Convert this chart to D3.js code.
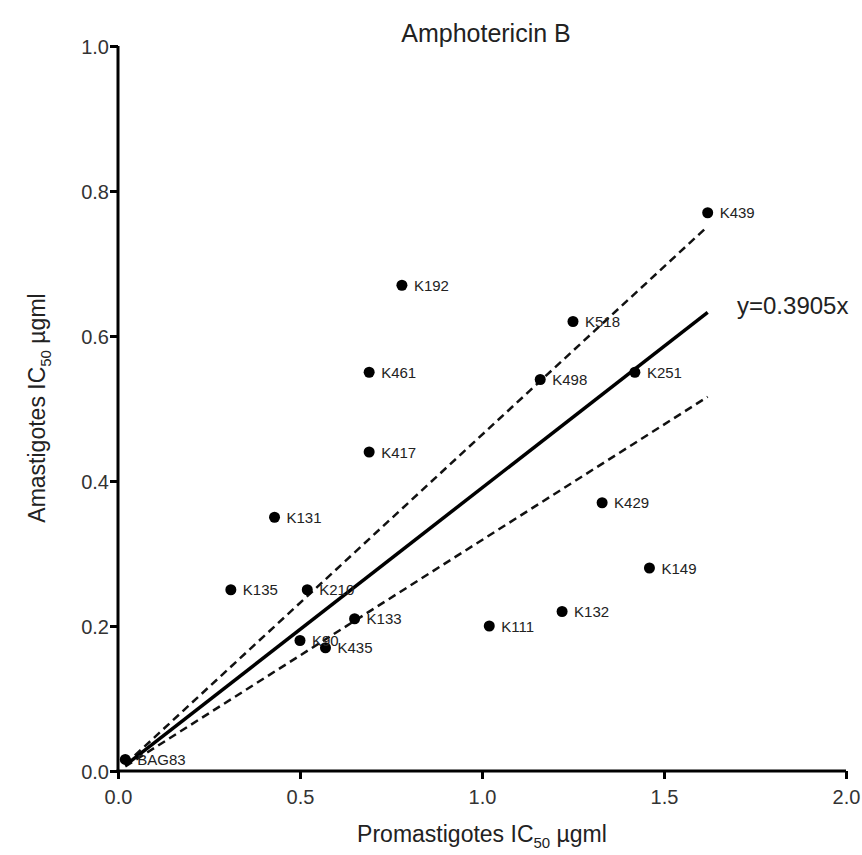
<!DOCTYPE html>
<html>
<head>
<meta charset="utf-8">
<script src="https://cdn.jsdelivr.net/npm/d3@7"></script>
<style>
  html, body { margin: 0; padding: 0; background: #fff; }
  svg { display: block; }
  text { font-family: "Liberation Sans", Arial, Helvetica, sans-serif; }
</style>
</head>
<body>
<svg id="chart" width="862" height="855"></svg>
<script>
// ---- data ----
const isolates = ["K439","K192","K518","K461","K498","K251","K417","K131","K429","K149","K135","K210","K133","K132","K111","K90","K435","BAG83"];
const promastigotes = [1.62, 0.78, 1.25, 0.69, 1.16, 1.42, 0.69, 0.43, 1.33, 1.46, 0.31, 0.52, 0.65, 1.22, 1.02, 0.50, 0.57, 0.02];
const amastigotes   = [0.77, 0.67, 0.62, 0.55, 0.54, 0.55, 0.44, 0.35, 0.37, 0.28, 0.25, 0.25, 0.21, 0.22, 0.20, 0.18, 0.17, 0.016];
const fitSlope = 0.3905;
const ciSlopes = [0.3186, 0.4637];
const xTicks = [0.0, 0.5, 1.0, 1.5, 2.0];
const yTicks = [0.0, 0.2, 0.4, 0.6, 0.8, 1.0];
const titleText = "Amphotericin B";
const fitLabel = "y=0.3905x";

// ---- layout ----
const svg = d3.select("#chart");
const mLeft = 118, mRight = 846, mTop = 46, mBottom = 771;
const x = d3.scaleLinear().domain([0, 2]).range([mLeft, mRight]);
const y = d3.scaleLinear().domain([0, 1]).range([mBottom, mTop]);

// title
svg.append("text").attr("x", 486).attr("y", 42).attr("text-anchor", "middle")
  .attr("font-size", 25).attr("fill", "#222").text(titleText);

// axes
const xAxis = svg.append("g").attr("transform", `translate(0,${mBottom})`)
  .call(d3.axisBottom(x).tickValues(xTicks).tickFormat(d3.format(".1f")).tickSize(8).tickSizeOuter(0));
const yAxis = svg.append("g").attr("transform", `translate(${mLeft},0)`)
  .call(d3.axisLeft(y).tickValues(yTicks).tickFormat(d3.format(".1f")).tickSize(8).tickSizeOuter(0));
[xAxis, yAxis].forEach(g => {
  g.select(".domain").attr("stroke", "#000").attr("stroke-width", 3);
  g.selectAll(".tick line").attr("stroke", "#000").attr("stroke-width", 3);
  g.selectAll(".tick text").attr("font-size", 20).attr("fill", "#333")
    .attr("font-family", "'Liberation Sans', Arial, sans-serif");
});
xAxis.selectAll(".tick text").attr("y", 12).attr("dy", "1.05em");
yAxis.selectAll(".tick text").attr("x", -9).attr("dy", "0.35em");
xAxis.select(".domain").attr("d", `M${mLeft - 1.5},0H${mRight}`);
yAxis.select(".domain").attr("d", `M0,${mBottom + 1.5}V${mTop}`);

// axis titles
const xl = svg.append("text").attr("x", 482).attr("y", 842).attr("text-anchor", "middle")
  .attr("font-size", 23).attr("fill", "#222");
xl.append("tspan").text("Promastigotes IC");
xl.append("tspan").attr("font-size", 15).attr("dy", 6).text("50");
xl.append("tspan").attr("dy", -6).text(" µgml");

const yl = svg.append("text").attr("transform", `translate(45,408) rotate(-90)`)
  .attr("text-anchor", "middle").attr("font-size", 23).attr("fill", "#222");
yl.append("tspan").text("Amastigotes IC");
yl.append("tspan").attr("font-size", 15).attr("dy", 6).text("50");
yl.append("tspan").attr("dy", -6).text(" µgml");

// regression lines, drawn across the data range
const xMin = d3.min(promastigotes), xMax = d3.max(promastigotes);
const line = d3.line().x(d => x(d[0])).y(d => y(d[1]));
ciSlopes.forEach(s => {
  svg.append("path").attr("d", line([[xMin, xMin * s], [xMax, xMax * s]]))
    .attr("stroke", "#111").attr("stroke-width", 2.5).attr("stroke-dasharray", "8,5").attr("fill", "none");
});
svg.append("path").attr("d", line([[xMin, xMin * fitSlope], [xMax, xMax * fitSlope]]))
  .attr("stroke", "#000").attr("stroke-width", 3.5).attr("fill", "none");

svg.append("text").attr("x", 737).attr("y", 314).attr("font-size", 24).attr("fill", "#222").text(fitLabel);

// points
const pts = isolates.map((n, i) => ({ name: n, px: promastigotes[i], am: amastigotes[i] }));
svg.append("g").selectAll("circle").data(pts).join("circle")
  .attr("cx", d => x(d.px)).attr("cy", d => y(d.am)).attr("r", 5.5).attr("fill", "#000");
svg.append("g").selectAll("text").data(pts).join("text")
  .attr("x", d => x(d.px) + 12).attr("y", d => y(d.am) + 5.5)
  .attr("font-size", 15).attr("fill", "#222").text(d => d.name);
</script>
</body>
</html>
